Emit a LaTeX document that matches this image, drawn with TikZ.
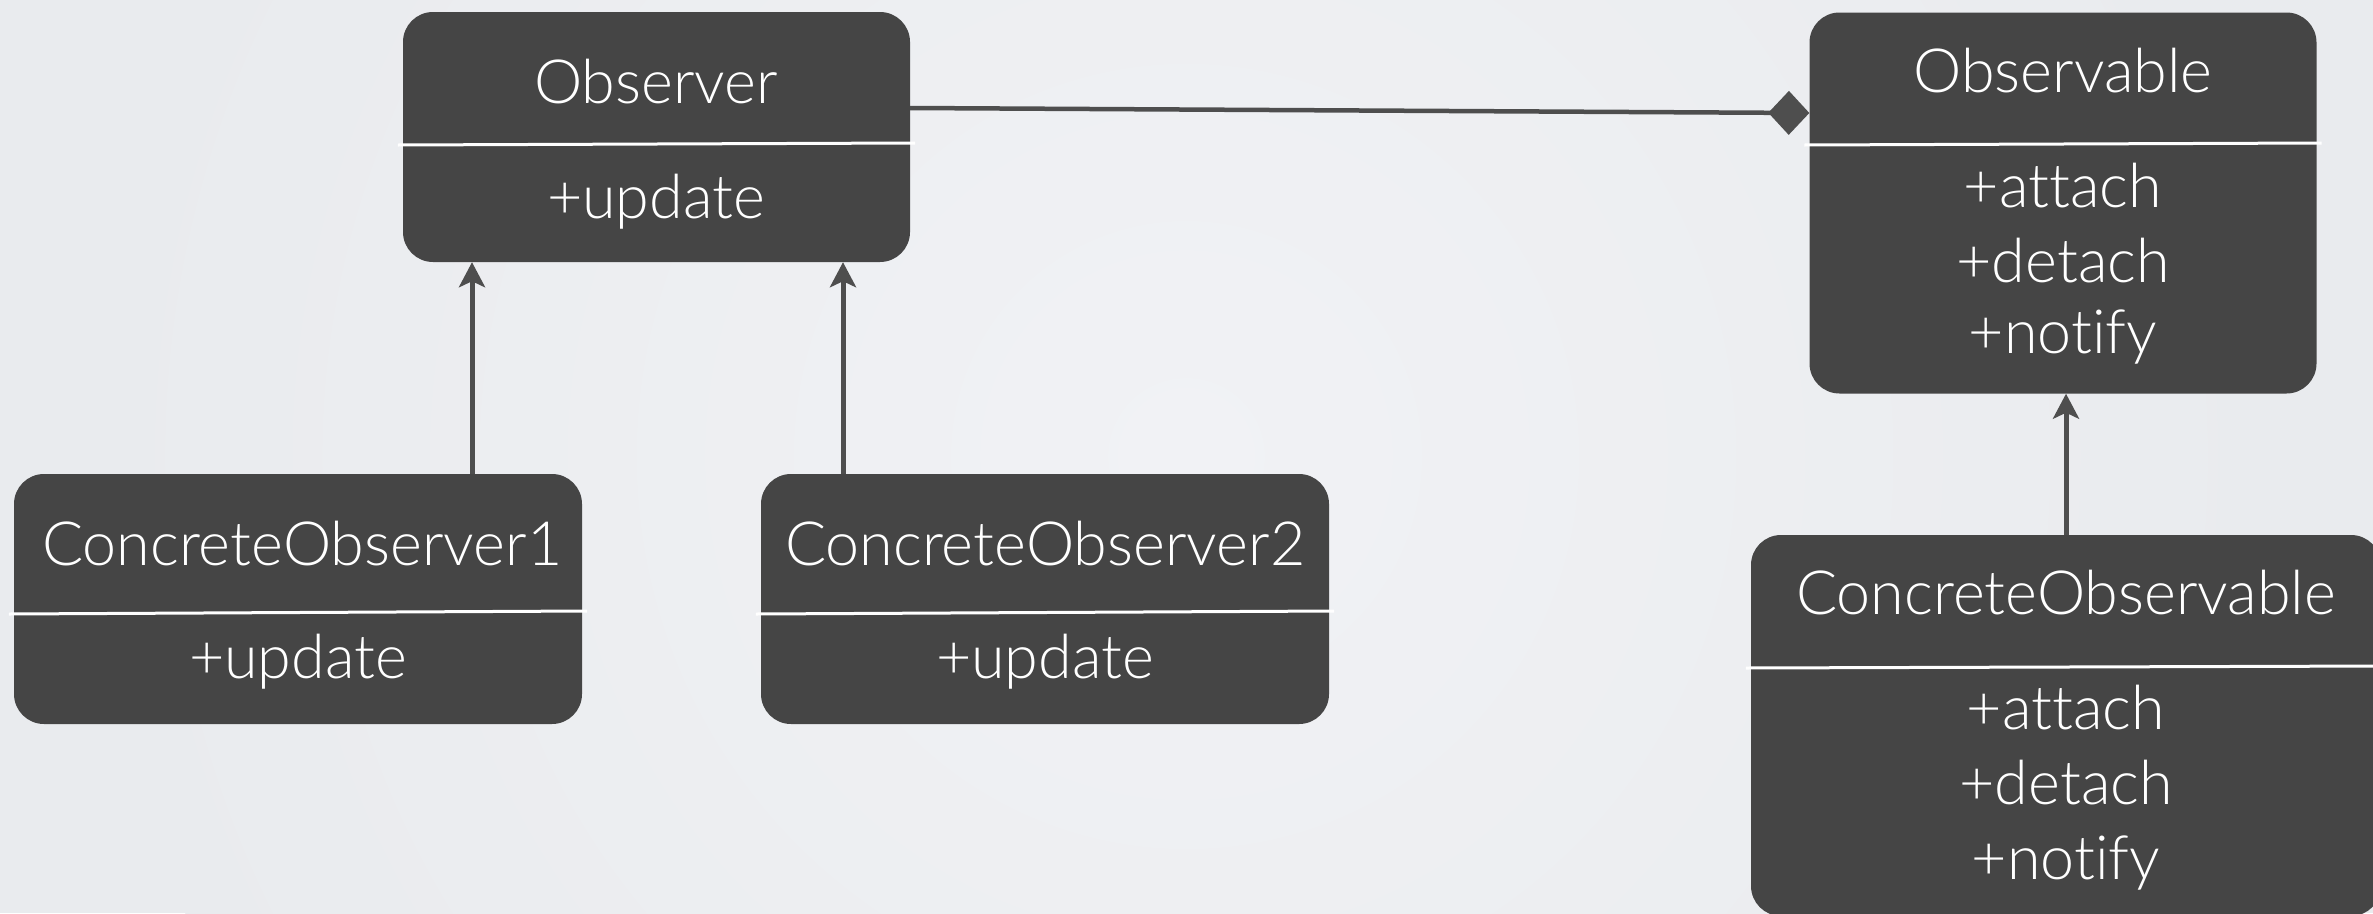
\documentclass[tikz,border=0pt]{standalone}
\usepackage{fontspec}
\setmainfont{Lato Light}[Ligatures={NoCommon,NoRare}]
\usetikzlibrary{arrows.meta}

\definecolor{boxfill}{HTML}{454545}
\definecolor{wire}{HTML}{4E4E4E}
\definecolor{paper}{HTML}{F1F2F5}
\definecolor{paperedge}{HTML}{E9EBEE}

\tikzset{
  umlbox/.style={draw=none, fill=boxfill, rounded corners=30pt, inner sep=0pt},
  umltext/.style={anchor=base, text=white, inner sep=0pt, font=\fontsize{61}{75}\selectfont},
  divider/.style={draw=white, line width=3pt},
  inherit/.style={draw=wire, line width=5pt, -{Stealth[length=25pt, width=26pt, inset=6pt]}},
  compose/.style={draw=wire, line width=4.5pt, -{Diamond[length=41pt, width=44pt]}},
}

\begin{document}
\begin{tikzpicture}[x=1pt, y=-1pt]

  %% ════ 背景 ════
  \fill[paperedge] (0,0) rectangle (2373,913);
  \shade[inner color=paper, outer color=paperedge] (1186,456) circle (1100);

  %% ════ 类框 ════
  \node[umlbox, minimum width=507pt, minimum height=250pt] (observer)   at (656.5,137)  {};
  \node[umlbox, minimum width=507pt, minimum height=381pt] (observable) at (2063,203)   {};
  \node[umlbox, minimum width=568pt, minimum height=250pt] (concrete1)  at (298,599)    {};
  \node[umlbox, minimum width=568pt, minimum height=250pt] (concrete2)  at (1045,599)   {};
  \node[umlbox, minimum width=630pt, minimum height=381pt] (concretesub) at (2066,725.5) {};

  %% ════ 分隔线（略超出框边）════
  \draw[divider] ([xshift=-5pt]observer.west |- 0,145)   -- ([xshift=5pt]observer.east |- 0,143);
  \draw[divider] ([xshift=-5pt]observable.west |- 0,145) -- ([xshift=5pt]observable.east |- 0,143);
  \draw[divider] ([xshift=-5pt]concrete1.west |- 0,614)  -- ([xshift=5pt]concrete1.east |- 0,611);
  \draw[divider] ([xshift=-5pt]concrete2.west |- 0,614)  -- ([xshift=5pt]concrete2.east |- 0,611);
  \draw[divider] ([xshift=-5pt]concretesub.west |- 0,668) -- ([xshift=5pt]concretesub.east |- 0,666);

  %% ════ 文字 ════
  \node[umltext] (observer-name) at (656,103) {Observer};
  \node[umltext] (observer-op)   at (656,218) {+update};

  \node[umltext] (observable-name) at (2063,92) {Observable};
  \node[umltext] (observable-op1)  at (2063,207) {+attach};
  \node[umltext] (observable-op2)  at (2063,282) {+detach};
  \node[umltext] (observable-op3)  at (2063,353) {+notify};

  \node[umltext] (concrete1-name) at (302,565) {ConcreteObserver1};
  \node[umltext] (concrete1-op)   at (298,678) {+update};

  \node[umltext] (concrete2-name) at (1045,565) {ConcreteObserver2};
  \node[umltext] (concrete2-op)   at (1045,678) {+update};

  \node[umltext] (concretesub-name) at (2066,614) {ConcreteObservable};
  \node[umltext] (concretesub-op1)  at (2066,729) {+attach};
  \node[umltext] (concretesub-op2)  at (2066,804) {+detach};
  \node[umltext] (concretesub-op3)  at (2066,879) {+notify};

  %% ════ 连线 ════
  \draw[compose] ([yshift=29pt]observer.east) -- ([yshift=90pt]observable.west);
  \draw[inherit] ([xshift=174pt]concrete1.north) -- ([xshift=174pt]concrete1.north |- observer.south);
  \draw[inherit] ([xshift=-202pt]concrete2.north) -- ([xshift=-202pt]concrete2.north |- observer.south);
  \draw[inherit] (concretesub.north) -- (concretesub.north |- observable.south);

  % 钉死画布
  \pgfresetboundingbox
  \path[use as bounding box] (0,0) rectangle (2373,913);
\end{tikzpicture}
\end{document}
